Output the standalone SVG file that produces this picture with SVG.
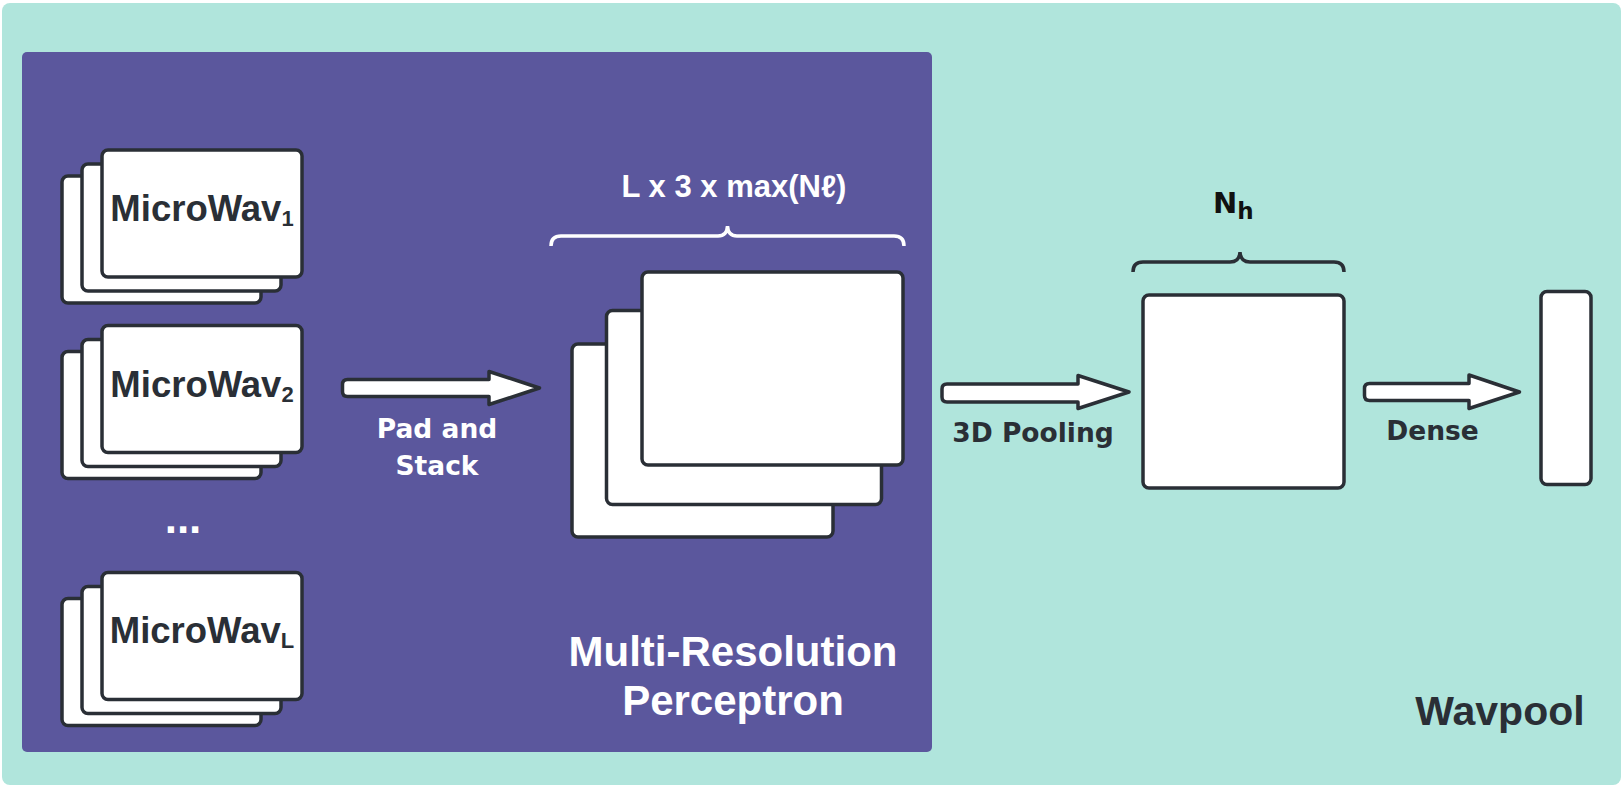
<svg xmlns="http://www.w3.org/2000/svg" width="1624" height="788" viewBox="0 0 1624 788">
<defs>
<style>
.card{fill:#ffffff;stroke:#2a2f36;stroke-width:3.5}
.arrow{fill:#ffffff;stroke:#2a2f36;stroke-width:3.5;stroke-linejoin:round}
.lbl{font-family:"Liberation Sans",Arial,sans-serif;font-weight:bold}
.lbl2{font-family:"DejaVu Sans",Verdana,sans-serif;font-weight:bold}
.dark{fill:#2a2f36}
.white{fill:#ffffff}
</style>
</defs>
<rect width="1624" height="788" fill="#ffffff"/>
<g id="wavpool">
<rect x="2" y="3" width="1619" height="782" rx="8" fill="#b0e5dc"/>
<text class="lbl dark" x="1500" y="725" font-size="41" text-anchor="middle">Wavpool</text>
</g>
<g id="mrp">
<rect x="22" y="52" width="910" height="700" rx="5" fill="#5b579d"/>
<text class="lbl white" x="733" y="666" font-size="42" text-anchor="middle">Multi-Resolution</text>
<text class="lbl white" x="733" y="715" font-size="42" text-anchor="middle">Perceptron</text>
</g>
<g id="microwav1">
<rect class="card" x="62" y="176" width="199" height="127" rx="6"/>
<rect class="card" x="82" y="164" width="199" height="127" rx="6"/>
<rect class="card" x="102" y="150" width="200" height="127" rx="6"/>
<text class="lbl dark" x="202" y="221" font-size="36.5" text-anchor="middle">MicroWav<tspan dy="5" font-size="22">1</tspan></text>
</g>
<g id="microwav2">
<rect class="card" x="62" y="351.5" width="199" height="127" rx="6"/>
<rect class="card" x="82" y="339.5" width="199" height="127" rx="6"/>
<rect class="card" x="102" y="325.5" width="200" height="127" rx="6"/>
<text class="lbl dark" x="202" y="396.5" font-size="36.5" text-anchor="middle">MicroWav<tspan dy="5" font-size="22">2</tspan></text>
</g>
<g id="ellipsis">
<text class="lbl white" x="183" y="533" font-size="44" text-anchor="middle">...</text>
</g>
<g id="microwavL">
<rect class="card" x="62" y="598.5" width="199" height="127" rx="6"/>
<rect class="card" x="82" y="586.5" width="199" height="127" rx="6"/>
<rect class="card" x="102" y="572.5" width="200" height="127" rx="6"/>
<text class="lbl dark" x="202" y="643" font-size="36.5" text-anchor="middle">MicroWav<tspan dy="5" font-size="22">L</tspan></text>
</g>
<g id="stacked">
<rect class="card" x="572" y="344" width="261" height="193" rx="6"/>
<rect class="card" x="606.5" y="310.5" width="275" height="194" rx="6"/>
<rect class="card" x="642" y="272" width="261" height="193" rx="6"/>
<path d="M551 246 Q551 236 561 236 H718 Q727 236 727.5 226 Q728 236 737 236 H894 Q904 236 904 246" fill="none" stroke="#ffffff" stroke-width="3.5"/>
<text class="lbl white" x="734" y="197" font-size="31" text-anchor="middle">L x 3 x max(Nℓ)</text>
</g>
<g id="hidden">
<rect class="card" x="1143" y="295" width="201" height="193" rx="6"/>
<path d="M1133 272 Q1133 262 1143 262 H1230 Q1239.5 262 1240 252 Q1240.5 262 1250 262 H1334 Q1344 262 1344 272" fill="none" stroke="#2a2f36" stroke-width="3.5"/>
<text class="lbl2" x="1213" y="213" font-size="29" fill="#111111">N<tspan dy="6" font-size="23">h</tspan></text>
</g>
<g id="output">
<rect class="card" x="1541" y="291.5" width="50" height="193" rx="6"/>
</g>
<g id="connectors">
<path class="arrow" d="M347.5 379.5 H489 V371.5 L539.5 388 L489 404.5 V396.5 H347.5 Q342.5 396.5 342.5 391.5 V384.5 Q342.5 379.5 347.5 379.5 Z"/>
<text class="lbl2 white" x="437" y="438" font-size="26.5" text-anchor="middle">Pad and</text>
<text class="lbl2 white" x="437" y="475" font-size="26.5" text-anchor="middle">Stack</text>
<path class="arrow" d="M947 384 H1078 V375.5 L1129 392 L1078 408.5 V402 H947 Q942 402 942 397 V389 Q942 384 947 384 Z"/>
<text class="lbl2 dark" x="1033" y="441.5" font-size="26.5" text-anchor="middle">3D Pooling</text>
<path class="arrow" d="M1369.5 383.5 H1469 V375 L1519.5 392 L1469 408.5 V400.5 H1369.5 Q1364.5 400.5 1364.5 395.5 V388.5 Q1364.5 383.5 1369.5 383.5 Z"/>
<text class="lbl2 dark" x="1432.5" y="440" font-size="26.5" text-anchor="middle">Dense</text>
</g>
</svg>
